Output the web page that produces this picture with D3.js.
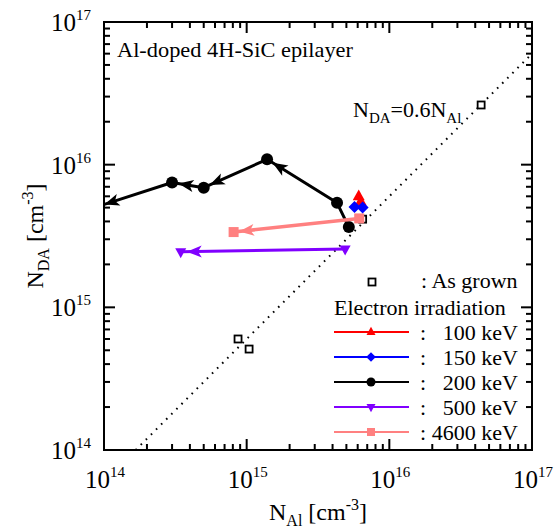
<!DOCTYPE html>
<html><head><meta charset="utf-8">
<script src="https://cdn.jsdelivr.net/npm/d3@7"></script>
<style>body{margin:0;background:#fff}svg{display:block}</style>
</head><body>
<svg id="c" width="558" height="531" font-family="'Liberation Serif', 'Times New Roman', Times, 'Nimbus Roman', 'DejaVu Serif', serif"></svg>
<script>
// ---- data ----
const majorTicks = [1e14, 1e15, 1e16, 1e17];
const majorTickExp = ["14", "15", "16", "17"];
const asGrownX = [8.7e14, 1.04e15, 6.5e15, 4.4e16];
const asGrownY = [6.0e14, 5.1e14, 4.15e15, 2.62e16];
const e100X = [6.1e15, 6.3e15];
const e100Y = [6.0e15, 5.5e15];
const e150X = [5.7e15, 6.5e15];
const e150Y = [5.05e15, 5.0e15];
const e200X = [5.2e15, 4.3e15, 1.39e15, 5.0e14, 3.0e14, 9.1e13];
const e200Y = [3.65e15, 5.4e15, 1.09e16, 6.9e15, 7.5e15, 5.1e15];
const e500X = [4.9e15, 3.45e14];
const e500Y = [2.56e15, 2.45e15];
const e4600X = [6.15e15, 8.1e14];
const e4600Y = [4.2e15, 3.37e15];
const lineRatio = 0.6;
const seriesNames = ["100 keV", "150 keV", "200 keV", "500 keV", "4600 keV"];

// ---- layout ----
const svg = d3.select("#c");
const L = 104, R = 532, T = 22, B = 450;
const x = d3.scaleLog().domain([1e14, 1e17]).range([L, R]);
const y = d3.scaleLog().domain([1e14, 1e17]).range([B, T]);

svg.append("clipPath").attr("id", "clip").append("rect")
  .attr("x", L).attr("y", T).attr("width", R - L).attr("height", B - T);
const plot = svg.append("g").attr("clip-path", "url(#clip)");

// dotted reference line
const refX = [1e14 / lineRatio, 1e17];
plot.append("line")
  .attr("x1", x(refX[0])).attr("y1", y(refX[0] * lineRatio))
  .attr("x2", x(refX[1])).attr("y2", y(refX[1] * lineRatio))
  .attr("stroke", "#000").attr("stroke-width", 2)
  .attr("stroke-dasharray", "1.6,5.6").attr("stroke-linecap", "butt");

// as grown squares
asGrownX.forEach((v, i) => {
  plot.append("rect").attr("x", x(v) - 3.5).attr("y", y(asGrownY[i]) - 3.5)
    .attr("width", 7).attr("height", 7).attr("fill", "#fff")
    .attr("stroke", "#000").attr("stroke-width", 1.8);
});

function marker(g, type, cx, cy, color, s) {
  if (type === "circle") {
    g.append("circle").attr("cx", cx).attr("cy", cy).attr("r", s).attr("fill", color);
  } else if (type === "square") {
    g.append("rect").attr("x", cx - s).attr("y", cy - s).attr("width", 2 * s).attr("height", 2 * s).attr("fill", color);
  } else if (type === "up") {
    g.append("path").attr("d", `M${cx},${cy - s * 1.15}L${cx + s},${cy + s * 0.65}L${cx - s},${cy + s * 0.65}Z`).attr("fill", color);
  } else if (type === "down") {
    g.append("path").attr("d", `M${cx},${cy + s * 1.15}L${cx + s},${cy - s * 0.65}L${cx - s},${cy - s * 0.65}Z`).attr("fill", color);
  } else if (type === "diamond") {
    g.append("path").attr("d", `M${cx},${cy - s * 1.2}L${cx + s * 1.2},${cy}L${cx},${cy + s * 1.2}L${cx - s * 1.2},${cy}Z`).attr("fill", color);
  }
}

function arrow(g, x0, y0, x1, y1, color, gap) {
  const dx = x1 - x0, dy = y1 - y0, len = Math.hypot(dx, dy);
  const ux = dx / len, uy = dy / len, nx = -uy, ny = ux;
  const tx = x1 - ux * gap, ty = y1 - uy * gap;
  const al = 15, hw = 6;
  const bx = tx - ux * al, by = ty - uy * al;
  const mx = tx - ux * al * 0.75, my = ty - uy * al * 0.75;
  g.append("path").attr("d",
    `M${tx},${ty}L${bx + nx * hw},${by + ny * hw}L${mx},${my}L${bx - nx * hw},${by - ny * hw}Z`)
    .attr("fill", color);
}

function series(xs, ys, color, type, size, arrows, lw) {
  const g = plot.append("g");
  const pts = xs.map((v, i) => [x(v), y(ys[i])]);
  g.append("path").attr("d", d3.line()(pts)).attr("fill", "none")
    .attr("stroke", color).attr("stroke-width", lw).attr("stroke-linejoin", "round");
  for (let i = 1; i < pts.length; i++) {
    if (arrows[i - 1]) arrow(g, pts[i - 1][0], pts[i - 1][1], pts[i][0], pts[i][1], color, size + 0.5);
  }
  pts.forEach(p => marker(g, type, p[0], p[1], color, size));
}

series(e200X, e200Y, "#000", "circle", 6, [false, true, true, true, true], 3);
series(e500X, e500Y, "#8000ff", "down", 5.5, [true], 3);
series(e4600X, e4600Y, "#ff8080", "square", 5, [true], 3.5);
series(e100X, e100Y, "#ff0000", "up", 6, [false], 3);
series(e150X, e150Y, "#0000ff", "diamond", 5, [false], 3);

// ---- axes / ticks ----
const ax = svg.append("g").attr("stroke", "#000").attr("stroke-width", 2);
ax.append("rect").attr("x", L).attr("y", T).attr("width", R - L).attr("height", B - T).attr("fill", "none");
const minor = [];
[1e14, 1e15, 1e16].forEach(d => { for (let k = 2; k <= 9; k++) minor.push(d * k); });
const tks = majorTicks.map(v => ({ v, len: 11 })).concat(minor.map(v => ({ v, len: 6 })));
tks.forEach(t => {
  const px = x(t.v), py = y(t.v);
  ax.append("line").attr("x1", px).attr("x2", px).attr("y1", B).attr("y2", B - t.len);
  ax.append("line").attr("x1", px).attr("x2", px).attr("y1", T).attr("y2", T + t.len);
  ax.append("line").attr("y1", py).attr("y2", py).attr("x1", L).attr("x2", L + t.len);
  ax.append("line").attr("y1", py).attr("y2", py).attr("x1", R).attr("x2", R - t.len);
});

majorTicks.forEach((v, i) => {
  const ty = svg.append("text").attr("x", 91).attr("y", y(v) + 9).attr("text-anchor", "end").attr("font-size", 25);
  ty.append("tspan").text("10");
  ty.append("tspan").attr("dy", -11).attr("font-size", 15).text(majorTickExp[i]);
  const tx = svg.append("text").attr("x", x(v) + 1).attr("y", 488).attr("text-anchor", "middle").attr("font-size", 25);
  tx.append("tspan").text("10");
  tx.append("tspan").attr("dy", -11).attr("font-size", 15).text(majorTickExp[i]);
});

function unitLabel(t, sub) {
  t.append("tspan").text("N");
  t.append("tspan").attr("dy", 6).attr("font-size", 16).text(sub);
  t.append("tspan").attr("dy", -6).text(" [cm");
  t.append("tspan").attr("dy", -10).attr("font-size", 16).text("-3");
  t.append("tspan").attr("dy", 10).text("]");
}
unitLabel(svg.append("text").attr("x", (L + R) / 2).attr("y", 520).attr("text-anchor", "middle").attr("font-size", 24), "Al");
unitLabel(svg.append("text").attr("transform", `translate(43,${(T + B) / 2}) rotate(-90)`).attr("text-anchor", "middle").attr("font-size", 24), "DA");

// title and equation label
svg.append("text").attr("x", 117).attr("y", 57).attr("font-size", 21)
  .attr("textLength", 236).attr("lengthAdjust", "spacingAndGlyphs").text("Al-doped 4H-SiC epilayer");
const eq = svg.append("text").attr("x", 353).attr("y", 117).attr("font-size", 22);
eq.append("tspan").text("N");
eq.append("tspan").attr("dy", 6).attr("font-size", 15).text("DA");
eq.append("tspan").attr("dy", -6).text("=0.6N");
eq.append("tspan").attr("dy", 6).attr("font-size", 15).text("Al");

// ---- legend ----
const lg = svg.append("g");
lg.append("rect").attr("x", 368.5).attr("y", 278.5).attr("width", 7).attr("height", 7)
  .attr("fill", "#fff").attr("stroke", "#000").attr("stroke-width", 1.8);
lg.append("text").attr("x", 421).attr("y", 288).attr("font-size", 22).text(": As grown");
lg.append("text").attr("x", 334).attr("y", 315).attr("font-size", 22).text("Electron irradiation");
const legColors = ["#ff0000", "#0000ff", "#000", "#8000ff", "#ff8080"];
const legTypes = ["up", "diamond", "circle", "down", "square"];
const legSizes = [4.5, 4, 4.5, 4.5, 4];
seriesNames.forEach((n, i) => {
  const ly = 332 + i * 25;
  lg.append("line").attr("x1", 334).attr("x2", 409).attr("y1", ly).attr("y2", ly)
    .attr("stroke", legColors[i]).attr("stroke-width", 2);
  marker(lg, legTypes[i], 371, ly, legColors[i], legSizes[i]);
  lg.append("text").attr("x", 420).attr("y", ly + 8).attr("font-size", 22).text(":");
  lg.append("text").attr("x", 518).attr("y", ly + 8).attr("text-anchor", "end").attr("font-size", 22).text(n);
});
</script>
</body></html>
